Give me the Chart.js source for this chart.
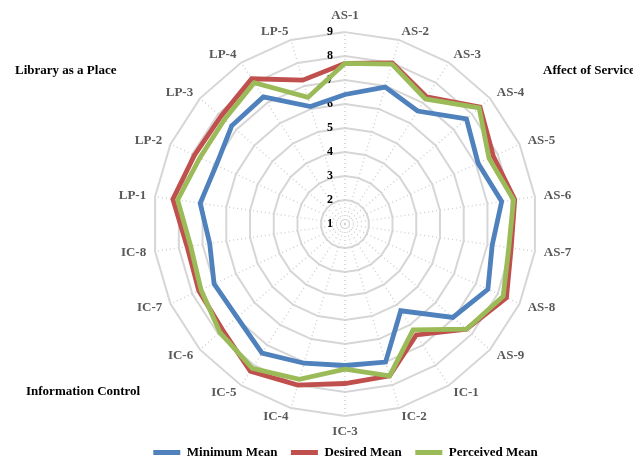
<!DOCTYPE html>
<html>
<head>
<meta charset="utf-8">
<script src="https://cdn.jsdelivr.net/npm/chart.js@4"></script>
<style>
  html, body { margin: 0; padding: 0; background: #fff; }
  #wrap { width: 633px; height: 461px; }
</style>
</head>
<body>
<div id="wrap"><canvas id="radar"></canvas></div>
<script>
var labels = ['AS-1', 'AS-2', 'AS-3', 'AS-4', 'AS-5', 'AS-6', 'AS-7', 'AS-8', 'AS-9',
    'IC-1', 'IC-2', 'IC-3', 'IC-4', 'IC-5', 'IC-6', 'IC-7', 'IC-8',
    'LP-1', 'LP-2', 'LP-3', 'LP-4', 'LP-5'];
var minimumMean = [6.4, 6.95, 6.6, 7.7, 7.1, 7.6, 7.2, 7.55, 6.95, 5.3, 7.0, 6.9, 7.05, 7.4, 6.95, 7.0, 6.7, 7.1, 6.9, 7.25, 7.3, 6.1];
var desiredMean = [7.7, 8.0, 7.3, 8.45, 7.8, 8.15, 8.0, 8.4, 7.7, 6.5, 7.6, 7.65, 8.0, 8.3, 7.75, 7.7, 7.65, 8.25, 7.9, 7.85, 8.2, 7.25];
var perceivedMean = [7.7, 7.95, 7.2, 8.4, 7.6, 8.1, 7.9, 8.25, 7.7, 6.25, 7.6, 7.05, 7.75, 8.15, 7.9, 7.6, 7.5, 8.05, 7.65, 7.65, 8.0, 6.5];
var tickValues = [1, 2, 3, 4, 5, 6, 7, 8, 9];
var groupNames = ['Library as a Place', 'Affect of Service', 'Information Control'];

var serif = '"Liberation Serif", "Times New Roman", serif';

// corner group names + tick numbers beside the vertical axis
var extras = {
    id: 'extras',
    beforeDatasetsDraw: function(chart) {
        var ctx = chart.ctx;
        var r = chart.scales.r;
        ctx.save();
        ctx.font = 'bold 12px ' + serif;
        ctx.fillStyle = '#000';
        ctx.textAlign = 'right';
        ctx.textBaseline = 'middle';
        tickValues.forEach(function(v) {
            var d = r.getDistanceFromCenterForValue(v);
            ctx.fillText(String(v), r.xCenter - 12, r.yCenter - d);
        });
        ctx.restore();
    },
    afterDraw: function(chart) {
        var ctx = chart.ctx;
        ctx.save();
        ctx.font = 'bold 13px ' + serif;
        ctx.fillStyle = '#000';
        ctx.textBaseline = 'middle';
        ctx.textAlign = 'left';
        ctx.fillText(groupNames[0], 15, 71);
        ctx.fillText(groupNames[1], 543, 71);
        ctx.fillText(groupNames[2], 26, 392);
        ctx.restore();
    }
};

function line(label, data, color, order) {
    return {
        label: label,
        data: data,
        borderColor: color,
        backgroundColor: color,
        borderWidth: 4.8,
        pointRadius: 0,
        fill: false,
        order: order
    };
}

new Chart(document.getElementById('radar'), {
    type: 'radar',
    data: {
        labels: labels,
        datasets: [
            line('Minimum Mean', minimumMean, '#4F81BD', 2),
            line('Desired Mean', desiredMean, '#C0504D', 1),
            line('Perceived Mean', perceivedMean, '#9BBB59', 0)
        ]
    },
    options: {
        responsive: true,
        maintainAspectRatio: false,
        animation: false,
        layout: { padding: { left: 58, right: 0, top: 16, bottom: -8 } },
        elements: { line: { tension: 0, borderJoinStyle: 'miter' } },
        scales: {
            r: {
                min: 1,
                max: 9,
                ticks: { stepSize: 1, display: false },
                grid: { color: '#d6d6d6', lineWidth: 2 },
                angleLines: { color: '#d0d0d0', lineWidth: 1.5, borderDash: [1, 3] },
                pointLabels: {
                    color: '#595959',
                    // labels centred on their anchor like the original (tiny line height)
                    padding: function(c) { return (c.index === 0 || c.index === 11) ? 16 : 9; },
                    font: { family: serif, size: 13, weight: 'bold', lineHeight: 0.01 }
                }
            }
        },
        plugins: {
            tooltip: { enabled: false },
            legend: {
                position: 'bottom',
                labels: {
                    color: '#000',
                    boxWidth: 27,
                    boxHeight: 5,
                    padding: 13.5,
                    font: { family: serif, size: 13, weight: 'bold' },
                    sort: function(a, b) { return a.datasetIndex - b.datasetIndex; },
                    generateLabels: function(chart) {
                        var items = Chart.defaults.plugins.legend.labels.generateLabels(chart);
                        items.forEach(function(it) { it.lineWidth = 0; });
                        return items;
                    }
                }
            }
        }
    },
    plugins: [extras]
});
</script>
</body>
</html>
